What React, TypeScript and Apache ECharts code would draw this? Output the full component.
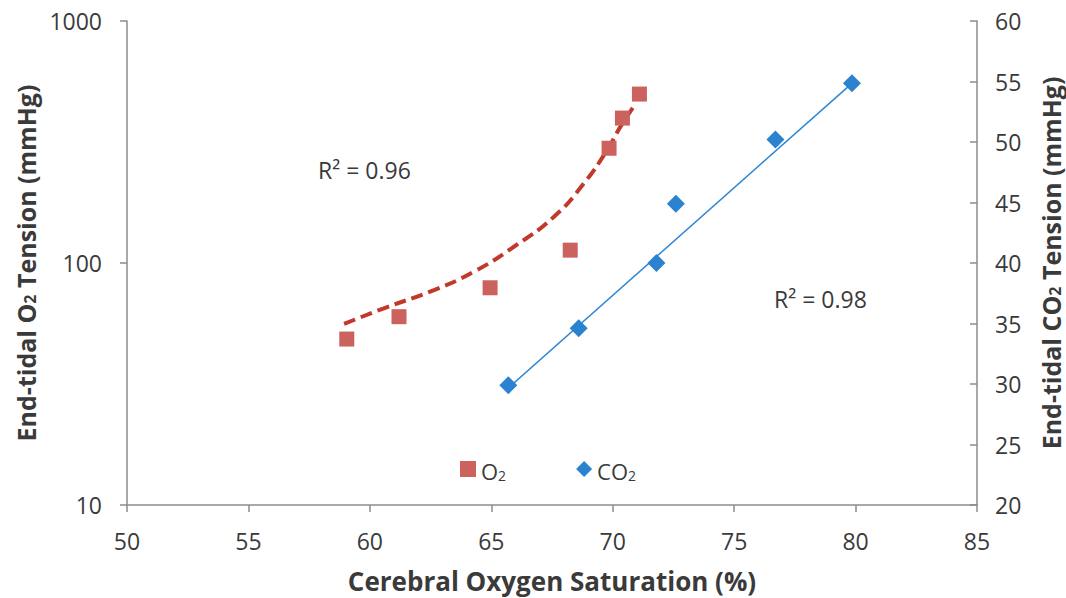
import React, { useEffect, useRef } from "react";
import * as echarts from "echarts";

// Data
const o2X = [59.05, 61.2, 64.95, 68.25, 69.85, 70.4, 71.1];
const o2Y = [48.5, 60, 79, 113, 298, 397, 499];
const co2X = [65.7, 68.6, 71.8, 72.6, 76.7, 79.85];
const co2Y = [29.9, 34.6, 40.0, 44.9, 50.2, 54.85];
// Trend lines
const o2TrendX = [58.94, 60.58, 62.64, 64.28, 65.93, 67.57, 68.81, 69.77, 70.32, 70.91];
const o2TrendY = [56, 65, 77.3, 92, 116.7, 155, 213, 293, 366, 450];
const co2TrendX = [65.66, 79.85];
const co2TrendY = [29.6, 54.85];
const r2Labels = ["R\u00b2 = 0.96", "R\u00b2 = 0.98"];

const FONT = "'Open Sans', 'DejaVu Sans', sans-serif";
const AXIS_COLOR = "#8c8c8c";
const TEXT_COLOR = "#3a3a3a";

const zip = (xs: number[], ys: number[]) => xs.map((x, i) => [x, ys[i]]);

export default function App() {
  const ref = useRef<HTMLDivElement>(null);
  useEffect(() => {
    if (!ref.current) return;
    const chart = echarts.init(ref.current, undefined, { renderer: "svg" });
    const nameRich = {
      a: { fontFamily: FONT, fontWeight: "bold", fontSize: 25, color: TEXT_COLOR, lineHeight: 28, verticalAlign: "bottom" },
      s: { fontFamily: FONT, fontWeight: "bold", fontSize: 16, color: TEXT_COLOR, lineHeight: 10, verticalAlign: "bottom" },
    };
    const axisCommon = {
      axisLine: { show: true, lineStyle: { color: AXIS_COLOR, width: 1.5 } },
      axisTick: { show: true, length: 7, lineStyle: { color: AXIS_COLOR, width: 1.5 } },
      splitLine: { show: false },
      axisLabel: { fontFamily: FONT, fontSize: 23, color: TEXT_COLOR },
    };
    chart.setOption({
      animation: false,
      backgroundColor: "#ffffff",
      grid: { left: 127, right: 89, top: 21, bottom: 93, containLabel: false, outerBoundsMode: "none" },
      legend: {
        data: ["O2", "CO2"],
        left: 455,
        top: 455,
        itemWidth: 16,
        itemHeight: 16,
        itemGap: 70,
        formatter: (n: string) => (n === "O2" ? "{a|O}{s|2}" : "{a|CO}{s|2}"),
        textStyle: {
          rich: {
            a: { fontFamily: FONT, fontSize: 22, color: TEXT_COLOR, lineHeight: 26, verticalAlign: "bottom" },
            s: { fontFamily: FONT, fontSize: 14, color: TEXT_COLOR, lineHeight: 10, verticalAlign: "bottom" },
          },
        },
      },
      xAxis: {
        type: "value",
        min: 50,
        max: 85,
        interval: 5,
        ...axisCommon,
        axisLine: { ...axisCommon.axisLine, onZero: false },
        axisLabel: { ...axisCommon.axisLabel, margin: 24 },
        name: "Cerebral Oxygen Saturation (%)",
        nameLocation: "middle",
        nameGap: 63,
        nameTextStyle: { fontFamily: FONT, fontWeight: "bold", fontSize: 26, lineHeight: 26, color: TEXT_COLOR },
      },
      yAxis: [
        {
          type: "log",
          logBase: 10,
          min: 10,
          max: 1000,
          position: "left",
          ...axisCommon,
          minorTick: { show: false },
          axisLabel: { ...axisCommon.axisLabel, margin: 25, formatter: (v: number) => String(v) },
          name: "{a|End-tidal O}{s|2}{a| Tension (mmHg)}",
          nameLocation: "middle",
          nameGap: 84,
          nameRotate: 90,
          nameTextStyle: { rich: nameRich },
        },
        {
          type: "value",
          min: 20,
          max: 60,
          interval: 5,
          position: "right",
          ...axisCommon,
          axisTick: { ...axisCommon.axisTick, inside: true },
          axisLabel: { ...axisCommon.axisLabel, margin: 18 },
          name: "{a|End-tidal CO}{s|2}{a| Tension (mmHg)}",
          nameLocation: "middle",
          nameGap: 58,
          nameRotate: 90,
          nameTextStyle: { rich: nameRich },
        },
      ],
      series: [
        {
          name: "O2 trend",
          type: "line",
          yAxisIndex: 0,
          data: zip(o2TrendX, o2TrendY),
          smooth: true,
          showSymbol: false,
          symbol: "none",
          lineStyle: { color: "#c0392b", width: 4, type: [12, 6] },
          z: 2,
        },
        {
          name: "CO2 trend",
          type: "line",
          yAxisIndex: 1,
          data: zip(co2TrendX, co2TrendY),
          showSymbol: false,
          symbol: "none",
          lineStyle: { color: "#2f86d3", width: 1.5 },
          z: 2,
        },
        {
          name: "O2",
          type: "scatter",
          yAxisIndex: 0,
          data: zip(o2X, o2Y),
          symbol: "rect",
          symbolSize: 15,
          itemStyle: { color: "#cb625e", opacity: 1 },
          z: 3,
        },
        {
          name: "CO2",
          type: "scatter",
          yAxisIndex: 1,
          data: zip(co2X, co2Y),
          symbol: "diamond",
          symbolSize: 18,
          itemStyle: { color: "#2b82cf", opacity: 1 },
          z: 3,
        },
      ],
      graphic: [
        {
          type: "text",
          left: 318,
          top: 158,
          style: { text: r2Labels[0], fontFamily: FONT, fontSize: 23, fill: TEXT_COLOR },
        },
        {
          type: "text",
          left: 774,
          top: 287,
          style: { text: r2Labels[1], fontFamily: FONT, fontSize: 23, fill: TEXT_COLOR },
        },
      ],
    });
    return () => chart.dispose();
  }, []);
  return (
    <div
      ref={ref}
      style={{ position: "fixed", left: 0, top: 0, width: 1066, height: 598 }}
    />
  );
}
